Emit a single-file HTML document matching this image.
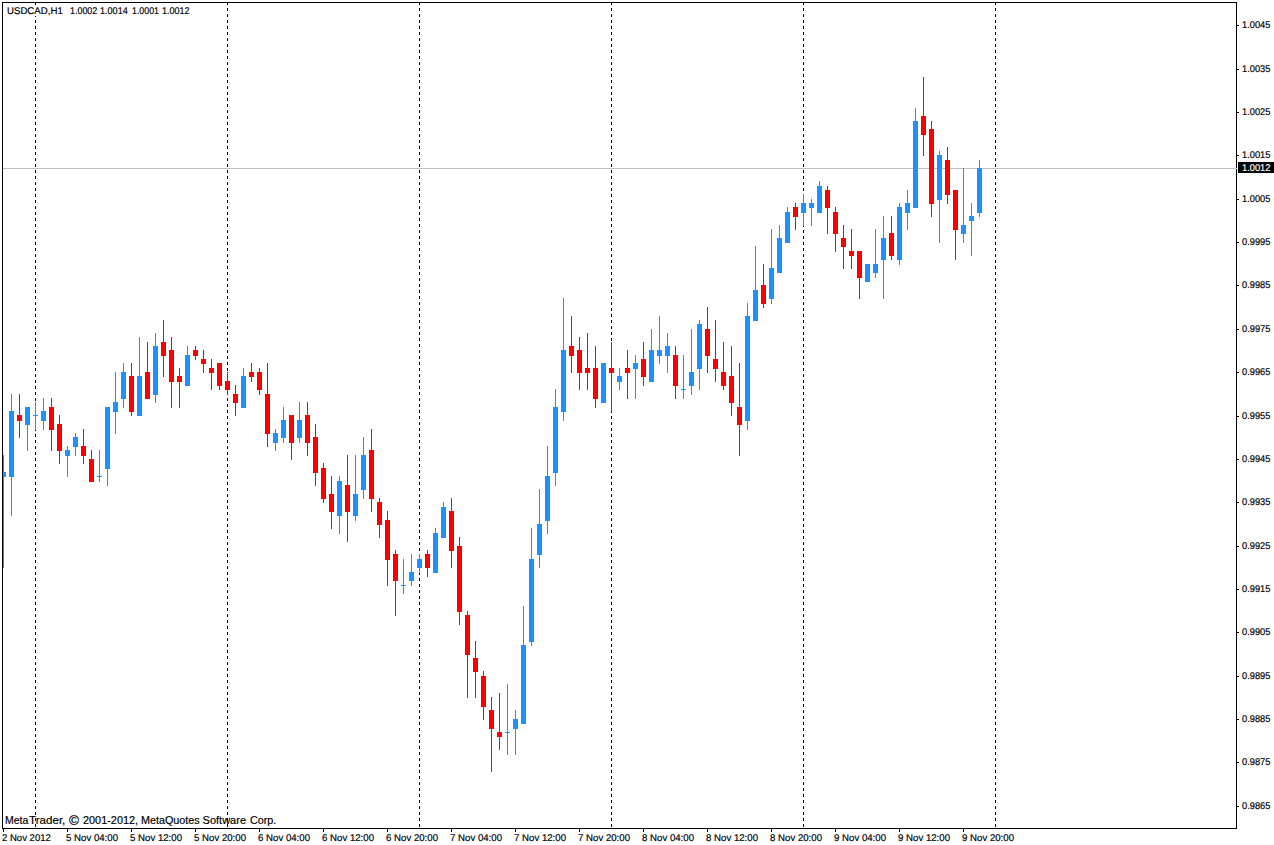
<!DOCTYPE html>
<html><head><meta charset="utf-8"><title>USDCAD,H1</title>
<style>
html,body{margin:0;padding:0;background:#fff;}
body{width:1274px;height:845px;position:relative;overflow:hidden;font-family:"Liberation Sans",sans-serif;}
svg{position:absolute;left:0;top:0;display:block;}
span{-webkit-text-stroke:0.18px currentColor;position:absolute;white-space:pre;line-height:1;transform-origin:0 0;font-family:"Liberation Sans",sans-serif;}
</style></head><body>
<svg width="1274" height="845" viewBox="0 0 1274 845" shape-rendering="crispEdges">
<line x1="35.5" y1="2" x2="35.5" y2="828" stroke="#000" stroke-width="1" stroke-dasharray="3 3"/>
<line x1="227.5" y1="2" x2="227.5" y2="828" stroke="#000" stroke-width="1" stroke-dasharray="3 3"/>
<line x1="419.5" y1="2" x2="419.5" y2="828" stroke="#000" stroke-width="1" stroke-dasharray="3 3"/>
<line x1="611.5" y1="2" x2="611.5" y2="828" stroke="#000" stroke-width="1" stroke-dasharray="3 3"/>
<line x1="803.5" y1="2" x2="803.5" y2="828" stroke="#000" stroke-width="1" stroke-dasharray="3 3"/>
<line x1="995.5" y1="2" x2="995.5" y2="828" stroke="#000" stroke-width="1" stroke-dasharray="3 3"/>
<rect x="3" y="168" width="1234" height="1" fill="#c0c0c0"/>
<rect x="5" y="5" width="188" height="11" fill="#fff"/>
<rect x="3" y="455" width="1" height="113" fill="#1e90ff"/>
<rect x="1" y="472" width="5" height="5" fill="#1e90ff"/>
<rect x="11" y="394" width="1" height="122" fill="#1e90ff"/>
<rect x="9" y="411" width="5" height="66" fill="#1e90ff"/>
<rect x="19" y="394" width="1" height="44" fill="#ff0000"/>
<rect x="17" y="415" width="5" height="6" fill="#ff0000"/>
<rect x="27" y="407" width="1" height="44" fill="#1e90ff"/>
<rect x="25" y="407" width="5" height="18" fill="#1e90ff"/>
<rect x="35" y="402" width="1" height="28" fill="#1e90ff"/>
<rect x="33" y="415" width="5" height="1" fill="#1e90ff"/>
<rect x="43" y="398" width="1" height="32" fill="#1e90ff"/>
<rect x="41" y="411" width="5" height="10" fill="#1e90ff"/>
<rect x="51" y="398" width="1" height="53" fill="#ff0000"/>
<rect x="49" y="407" width="5" height="23" fill="#ff0000"/>
<rect x="59" y="415" width="1" height="49" fill="#ff0000"/>
<rect x="57" y="424" width="5" height="27" fill="#ff0000"/>
<rect x="67" y="446" width="1" height="31" fill="#1e90ff"/>
<rect x="65" y="450" width="5" height="6" fill="#1e90ff"/>
<rect x="75" y="433" width="1" height="23" fill="#1e90ff"/>
<rect x="73" y="437" width="5" height="10" fill="#1e90ff"/>
<rect x="83" y="429" width="1" height="35" fill="#ff0000"/>
<rect x="81" y="446" width="5" height="10" fill="#ff0000"/>
<rect x="91" y="450" width="1" height="32" fill="#ff0000"/>
<rect x="89" y="459" width="5" height="23" fill="#ff0000"/>
<rect x="99" y="450" width="1" height="32" fill="#1e90ff"/>
<rect x="97" y="476" width="5" height="1" fill="#1e90ff"/>
<rect x="107" y="407" width="1" height="79" fill="#1e90ff"/>
<rect x="105" y="407" width="5" height="62" fill="#1e90ff"/>
<rect x="115" y="372" width="1" height="62" fill="#1e90ff"/>
<rect x="113" y="402" width="5" height="10" fill="#1e90ff"/>
<rect x="123" y="363" width="1" height="45" fill="#1e90ff"/>
<rect x="121" y="372" width="5" height="27" fill="#1e90ff"/>
<rect x="131" y="363" width="1" height="53" fill="#ff0000"/>
<rect x="129" y="376" width="5" height="36" fill="#ff0000"/>
<rect x="139" y="337" width="1" height="79" fill="#1e90ff"/>
<rect x="137" y="376" width="5" height="40" fill="#1e90ff"/>
<rect x="147" y="342" width="1" height="57" fill="#ff0000"/>
<rect x="145" y="372" width="5" height="27" fill="#ff0000"/>
<rect x="155" y="333" width="1" height="70" fill="#1e90ff"/>
<rect x="153" y="346" width="5" height="49" fill="#1e90ff"/>
<rect x="163" y="320" width="1" height="57" fill="#ff0000"/>
<rect x="161" y="342" width="5" height="14" fill="#ff0000"/>
<rect x="171" y="337" width="1" height="71" fill="#ff0000"/>
<rect x="169" y="350" width="5" height="32" fill="#ff0000"/>
<rect x="179" y="368" width="1" height="40" fill="#ff0000"/>
<rect x="177" y="376" width="5" height="6" fill="#ff0000"/>
<rect x="187" y="346" width="1" height="40" fill="#1e90ff"/>
<rect x="185" y="355" width="5" height="31" fill="#1e90ff"/>
<rect x="195" y="346" width="1" height="14" fill="#ff0000"/>
<rect x="193" y="350" width="5" height="6" fill="#ff0000"/>
<rect x="203" y="350" width="1" height="23" fill="#ff0000"/>
<rect x="201" y="359" width="5" height="5" fill="#ff0000"/>
<rect x="211" y="359" width="1" height="31" fill="#ff0000"/>
<rect x="209" y="368" width="5" height="5" fill="#ff0000"/>
<rect x="219" y="363" width="1" height="27" fill="#ff0000"/>
<rect x="217" y="363" width="5" height="23" fill="#ff0000"/>
<rect x="227" y="372" width="1" height="23" fill="#ff0000"/>
<rect x="225" y="381" width="5" height="9" fill="#ff0000"/>
<rect x="235" y="385" width="1" height="31" fill="#ff0000"/>
<rect x="233" y="394" width="5" height="9" fill="#ff0000"/>
<rect x="243" y="368" width="1" height="40" fill="#1e90ff"/>
<rect x="241" y="376" width="5" height="32" fill="#1e90ff"/>
<rect x="251" y="363" width="1" height="19" fill="#ff0000"/>
<rect x="249" y="372" width="5" height="5" fill="#ff0000"/>
<rect x="259" y="368" width="1" height="27" fill="#ff0000"/>
<rect x="257" y="372" width="5" height="18" fill="#ff0000"/>
<rect x="267" y="363" width="1" height="84" fill="#ff0000"/>
<rect x="265" y="394" width="5" height="40" fill="#ff0000"/>
<rect x="275" y="429" width="1" height="22" fill="#1e90ff"/>
<rect x="273" y="433" width="5" height="10" fill="#1e90ff"/>
<rect x="283" y="407" width="1" height="36" fill="#1e90ff"/>
<rect x="281" y="420" width="5" height="18" fill="#1e90ff"/>
<rect x="291" y="415" width="1" height="45" fill="#ff0000"/>
<rect x="289" y="415" width="5" height="28" fill="#ff0000"/>
<rect x="299" y="402" width="1" height="41" fill="#1e90ff"/>
<rect x="297" y="420" width="5" height="18" fill="#1e90ff"/>
<rect x="307" y="402" width="1" height="54" fill="#ff0000"/>
<rect x="305" y="415" width="5" height="28" fill="#ff0000"/>
<rect x="315" y="424" width="1" height="62" fill="#ff0000"/>
<rect x="313" y="437" width="5" height="36" fill="#ff0000"/>
<rect x="323" y="463" width="1" height="40" fill="#ff0000"/>
<rect x="321" y="468" width="5" height="31" fill="#ff0000"/>
<rect x="331" y="476" width="1" height="53" fill="#ff0000"/>
<rect x="329" y="494" width="5" height="18" fill="#ff0000"/>
<rect x="339" y="476" width="1" height="58" fill="#1e90ff"/>
<rect x="337" y="481" width="5" height="35" fill="#1e90ff"/>
<rect x="347" y="455" width="1" height="87" fill="#ff0000"/>
<rect x="345" y="485" width="5" height="27" fill="#ff0000"/>
<rect x="355" y="455" width="1" height="66" fill="#1e90ff"/>
<rect x="353" y="494" width="5" height="22" fill="#1e90ff"/>
<rect x="363" y="437" width="1" height="62" fill="#1e90ff"/>
<rect x="361" y="455" width="5" height="35" fill="#1e90ff"/>
<rect x="371" y="429" width="1" height="83" fill="#ff0000"/>
<rect x="369" y="450" width="5" height="49" fill="#ff0000"/>
<rect x="379" y="498" width="1" height="40" fill="#ff0000"/>
<rect x="377" y="502" width="5" height="23" fill="#ff0000"/>
<rect x="387" y="511" width="1" height="75" fill="#ff0000"/>
<rect x="385" y="520" width="5" height="40" fill="#ff0000"/>
<rect x="395" y="550" width="1" height="66" fill="#ff0000"/>
<rect x="393" y="554" width="5" height="27" fill="#ff0000"/>
<rect x="403" y="559" width="1" height="35" fill="#1e90ff"/>
<rect x="401" y="585" width="5" height="1" fill="#1e90ff"/>
<rect x="411" y="554" width="1" height="32" fill="#1e90ff"/>
<rect x="409" y="572" width="5" height="9" fill="#1e90ff"/>
<rect x="419" y="554" width="1" height="19" fill="#1e90ff"/>
<rect x="417" y="559" width="5" height="9" fill="#1e90ff"/>
<rect x="427" y="550" width="1" height="27" fill="#ff0000"/>
<rect x="425" y="554" width="5" height="14" fill="#ff0000"/>
<rect x="435" y="528" width="1" height="45" fill="#1e90ff"/>
<rect x="433" y="533" width="5" height="40" fill="#1e90ff"/>
<rect x="443" y="502" width="1" height="36" fill="#1e90ff"/>
<rect x="441" y="507" width="5" height="31" fill="#1e90ff"/>
<rect x="451" y="498" width="1" height="70" fill="#ff0000"/>
<rect x="449" y="511" width="5" height="40" fill="#ff0000"/>
<rect x="459" y="537" width="1" height="88" fill="#ff0000"/>
<rect x="457" y="546" width="5" height="66" fill="#ff0000"/>
<rect x="467" y="611" width="1" height="87" fill="#ff0000"/>
<rect x="465" y="615" width="5" height="40" fill="#ff0000"/>
<rect x="475" y="641" width="1" height="57" fill="#ff0000"/>
<rect x="473" y="658" width="5" height="14" fill="#ff0000"/>
<rect x="483" y="671" width="1" height="49" fill="#ff0000"/>
<rect x="481" y="676" width="5" height="31" fill="#ff0000"/>
<rect x="491" y="697" width="1" height="75" fill="#ff0000"/>
<rect x="489" y="710" width="5" height="19" fill="#ff0000"/>
<rect x="499" y="693" width="1" height="57" fill="#ff0000"/>
<rect x="497" y="732" width="5" height="5" fill="#ff0000"/>
<rect x="507" y="684" width="1" height="71" fill="#1e90ff"/>
<rect x="505" y="732" width="5" height="1" fill="#1e90ff"/>
<rect x="515" y="710" width="1" height="45" fill="#1e90ff"/>
<rect x="513" y="719" width="5" height="10" fill="#1e90ff"/>
<rect x="523" y="606" width="1" height="118" fill="#1e90ff"/>
<rect x="521" y="645" width="5" height="79" fill="#1e90ff"/>
<rect x="531" y="528" width="1" height="118" fill="#1e90ff"/>
<rect x="529" y="559" width="5" height="83" fill="#1e90ff"/>
<rect x="539" y="489" width="1" height="79" fill="#1e90ff"/>
<rect x="537" y="524" width="5" height="31" fill="#1e90ff"/>
<rect x="547" y="446" width="1" height="88" fill="#1e90ff"/>
<rect x="545" y="476" width="5" height="45" fill="#1e90ff"/>
<rect x="555" y="389" width="1" height="97" fill="#1e90ff"/>
<rect x="553" y="407" width="5" height="66" fill="#1e90ff"/>
<rect x="563" y="298" width="1" height="123" fill="#1e90ff"/>
<rect x="561" y="350" width="5" height="62" fill="#1e90ff"/>
<rect x="571" y="316" width="1" height="57" fill="#ff0000"/>
<rect x="569" y="346" width="5" height="10" fill="#ff0000"/>
<rect x="579" y="337" width="1" height="53" fill="#ff0000"/>
<rect x="577" y="350" width="5" height="23" fill="#ff0000"/>
<rect x="587" y="333" width="1" height="57" fill="#ff0000"/>
<rect x="585" y="368" width="5" height="5" fill="#ff0000"/>
<rect x="595" y="346" width="1" height="62" fill="#ff0000"/>
<rect x="593" y="368" width="5" height="31" fill="#ff0000"/>
<rect x="603" y="363" width="1" height="40" fill="#1e90ff"/>
<rect x="601" y="363" width="5" height="40" fill="#1e90ff"/>
<rect x="611" y="342" width="1" height="70" fill="#ff0000"/>
<rect x="609" y="368" width="5" height="5" fill="#ff0000"/>
<rect x="619" y="368" width="1" height="22" fill="#1e90ff"/>
<rect x="617" y="376" width="5" height="6" fill="#1e90ff"/>
<rect x="627" y="350" width="1" height="49" fill="#ff0000"/>
<rect x="625" y="368" width="5" height="5" fill="#ff0000"/>
<rect x="635" y="355" width="1" height="44" fill="#1e90ff"/>
<rect x="633" y="363" width="5" height="6" fill="#1e90ff"/>
<rect x="643" y="342" width="1" height="44" fill="#ff0000"/>
<rect x="641" y="359" width="5" height="18" fill="#ff0000"/>
<rect x="651" y="329" width="1" height="53" fill="#1e90ff"/>
<rect x="649" y="350" width="5" height="32" fill="#1e90ff"/>
<rect x="659" y="316" width="1" height="48" fill="#1e90ff"/>
<rect x="657" y="350" width="5" height="6" fill="#1e90ff"/>
<rect x="667" y="333" width="1" height="40" fill="#1e90ff"/>
<rect x="665" y="346" width="5" height="10" fill="#1e90ff"/>
<rect x="675" y="346" width="1" height="53" fill="#ff0000"/>
<rect x="673" y="355" width="5" height="31" fill="#ff0000"/>
<rect x="683" y="355" width="1" height="44" fill="#1e90ff"/>
<rect x="681" y="389" width="5" height="1" fill="#1e90ff"/>
<rect x="691" y="329" width="1" height="66" fill="#1e90ff"/>
<rect x="689" y="372" width="5" height="14" fill="#1e90ff"/>
<rect x="699" y="320" width="1" height="70" fill="#1e90ff"/>
<rect x="697" y="324" width="5" height="45" fill="#1e90ff"/>
<rect x="707" y="307" width="1" height="66" fill="#ff0000"/>
<rect x="705" y="329" width="5" height="27" fill="#ff0000"/>
<rect x="715" y="320" width="1" height="62" fill="#ff0000"/>
<rect x="713" y="359" width="5" height="10" fill="#ff0000"/>
<rect x="723" y="342" width="1" height="48" fill="#ff0000"/>
<rect x="721" y="372" width="5" height="14" fill="#ff0000"/>
<rect x="731" y="346" width="1" height="70" fill="#ff0000"/>
<rect x="729" y="376" width="5" height="27" fill="#ff0000"/>
<rect x="739" y="363" width="1" height="93" fill="#ff0000"/>
<rect x="737" y="407" width="5" height="18" fill="#ff0000"/>
<rect x="747" y="303" width="1" height="127" fill="#1e90ff"/>
<rect x="745" y="316" width="5" height="105" fill="#1e90ff"/>
<rect x="755" y="246" width="1" height="75" fill="#1e90ff"/>
<rect x="753" y="290" width="5" height="31" fill="#1e90ff"/>
<rect x="763" y="264" width="1" height="44" fill="#ff0000"/>
<rect x="761" y="285" width="5" height="19" fill="#ff0000"/>
<rect x="771" y="229" width="1" height="75" fill="#1e90ff"/>
<rect x="769" y="268" width="5" height="31" fill="#1e90ff"/>
<rect x="779" y="225" width="1" height="48" fill="#1e90ff"/>
<rect x="777" y="238" width="5" height="35" fill="#1e90ff"/>
<rect x="787" y="207" width="1" height="36" fill="#1e90ff"/>
<rect x="785" y="212" width="5" height="31" fill="#1e90ff"/>
<rect x="795" y="203" width="1" height="27" fill="#ff0000"/>
<rect x="793" y="207" width="5" height="10" fill="#ff0000"/>
<rect x="803" y="194" width="1" height="32" fill="#1e90ff"/>
<rect x="801" y="203" width="5" height="10" fill="#1e90ff"/>
<rect x="811" y="199" width="1" height="27" fill="#1e90ff"/>
<rect x="809" y="203" width="5" height="5" fill="#1e90ff"/>
<rect x="819" y="181" width="1" height="32" fill="#1e90ff"/>
<rect x="817" y="186" width="5" height="27" fill="#1e90ff"/>
<rect x="827" y="186" width="1" height="48" fill="#ff0000"/>
<rect x="825" y="190" width="5" height="18" fill="#ff0000"/>
<rect x="835" y="207" width="1" height="45" fill="#ff0000"/>
<rect x="833" y="212" width="5" height="22" fill="#ff0000"/>
<rect x="843" y="225" width="1" height="44" fill="#ff0000"/>
<rect x="841" y="238" width="5" height="9" fill="#ff0000"/>
<rect x="851" y="229" width="1" height="40" fill="#ff0000"/>
<rect x="849" y="251" width="5" height="5" fill="#ff0000"/>
<rect x="859" y="251" width="1" height="48" fill="#ff0000"/>
<rect x="857" y="251" width="5" height="27" fill="#ff0000"/>
<rect x="867" y="264" width="1" height="18" fill="#1e90ff"/>
<rect x="865" y="264" width="5" height="18" fill="#1e90ff"/>
<rect x="875" y="229" width="1" height="49" fill="#1e90ff"/>
<rect x="873" y="264" width="5" height="9" fill="#1e90ff"/>
<rect x="883" y="216" width="1" height="83" fill="#1e90ff"/>
<rect x="881" y="238" width="5" height="22" fill="#1e90ff"/>
<rect x="891" y="216" width="1" height="44" fill="#ff0000"/>
<rect x="889" y="233" width="5" height="23" fill="#ff0000"/>
<rect x="899" y="203" width="1" height="62" fill="#1e90ff"/>
<rect x="897" y="207" width="5" height="53" fill="#1e90ff"/>
<rect x="907" y="190" width="1" height="40" fill="#1e90ff"/>
<rect x="905" y="203" width="5" height="10" fill="#1e90ff"/>
<rect x="915" y="108" width="1" height="100" fill="#1e90ff"/>
<rect x="913" y="121" width="5" height="87" fill="#1e90ff"/>
<rect x="923" y="77" width="1" height="79" fill="#ff0000"/>
<rect x="921" y="116" width="5" height="19" fill="#ff0000"/>
<rect x="931" y="121" width="1" height="96" fill="#ff0000"/>
<rect x="929" y="129" width="5" height="75" fill="#ff0000"/>
<rect x="939" y="151" width="1" height="92" fill="#1e90ff"/>
<rect x="937" y="155" width="5" height="45" fill="#1e90ff"/>
<rect x="947" y="147" width="1" height="57" fill="#ff0000"/>
<rect x="945" y="160" width="5" height="35" fill="#ff0000"/>
<rect x="955" y="190" width="1" height="70" fill="#ff0000"/>
<rect x="953" y="190" width="5" height="40" fill="#ff0000"/>
<rect x="963" y="168" width="1" height="75" fill="#1e90ff"/>
<rect x="961" y="225" width="5" height="9" fill="#1e90ff"/>
<rect x="971" y="203" width="1" height="53" fill="#1e90ff"/>
<rect x="969" y="216" width="5" height="5" fill="#1e90ff"/>
<rect x="979" y="160" width="1" height="57" fill="#1e90ff"/>
<rect x="977" y="168" width="5" height="45" fill="#1e90ff"/>
<rect x="0" y="0" width="3" height="845" fill="#fff"/>
<rect x="2" y="2" width="1" height="827" fill="#000"/>
<rect x="2" y="2" width="1235" height="1" fill="#000"/>
<rect x="1236" y="2" width="1" height="827" fill="#000"/>
<rect x="2" y="828" width="1235" height="1" fill="#000"/>
<rect x="1236" y="168" width="1" height="1" fill="#e0e0e0"/>
<rect x="1237" y="25" width="2" height="1" fill="#000"/>
<rect x="1237" y="69" width="2" height="1" fill="#000"/>
<rect x="1237" y="112" width="2" height="1" fill="#000"/>
<rect x="1237" y="155" width="2" height="1" fill="#000"/>
<rect x="1237" y="199" width="2" height="1" fill="#000"/>
<rect x="1237" y="242" width="2" height="1" fill="#000"/>
<rect x="1237" y="285" width="2" height="1" fill="#000"/>
<rect x="1237" y="329" width="2" height="1" fill="#000"/>
<rect x="1237" y="372" width="2" height="1" fill="#000"/>
<rect x="1237" y="416" width="2" height="1" fill="#000"/>
<rect x="1237" y="459" width="2" height="1" fill="#000"/>
<rect x="1237" y="502" width="2" height="1" fill="#000"/>
<rect x="1237" y="546" width="2" height="1" fill="#000"/>
<rect x="1237" y="589" width="2" height="1" fill="#000"/>
<rect x="1237" y="632" width="2" height="1" fill="#000"/>
<rect x="1237" y="676" width="2" height="1" fill="#000"/>
<rect x="1237" y="719" width="2" height="1" fill="#000"/>
<rect x="1237" y="762" width="2" height="1" fill="#000"/>
<rect x="1237" y="806" width="2" height="1" fill="#000"/>
<rect x="3" y="829" width="1" height="3" fill="#000"/>
<rect x="67" y="829" width="1" height="3" fill="#000"/>
<rect x="131" y="829" width="1" height="3" fill="#000"/>
<rect x="195" y="829" width="1" height="3" fill="#000"/>
<rect x="259" y="829" width="1" height="3" fill="#000"/>
<rect x="323" y="829" width="1" height="3" fill="#000"/>
<rect x="387" y="829" width="1" height="3" fill="#000"/>
<rect x="451" y="829" width="1" height="3" fill="#000"/>
<rect x="515" y="829" width="1" height="3" fill="#000"/>
<rect x="579" y="829" width="1" height="3" fill="#000"/>
<rect x="643" y="829" width="1" height="3" fill="#000"/>
<rect x="707" y="829" width="1" height="3" fill="#000"/>
<rect x="771" y="829" width="1" height="3" fill="#000"/>
<rect x="835" y="829" width="1" height="3" fill="#000"/>
<rect x="899" y="829" width="1" height="3" fill="#000"/>
<rect x="963" y="829" width="1" height="3" fill="#000"/>
<rect x="1238" y="162" width="36" height="11" fill="#000"/>
</svg>
<span style="left:1242px;top:21px;font-size:9.8px;color:#000;transform:scaleX(0.95);text-rendering:geometricPrecision;">1.0045</span>
<span style="left:1242px;top:65px;font-size:9.8px;color:#000;transform:scaleX(0.95);text-rendering:geometricPrecision;">1.0035</span>
<span style="left:1242px;top:108px;font-size:9.8px;color:#000;transform:scaleX(0.95);text-rendering:geometricPrecision;">1.0025</span>
<span style="left:1242px;top:151px;font-size:9.8px;color:#000;transform:scaleX(0.95);text-rendering:geometricPrecision;">1.0015</span>
<span style="left:1242px;top:195px;font-size:9.8px;color:#000;transform:scaleX(0.95);text-rendering:geometricPrecision;">1.0005</span>
<span style="left:1242px;top:238px;font-size:9.8px;color:#000;transform:scaleX(0.95);text-rendering:geometricPrecision;">0.9995</span>
<span style="left:1242px;top:281px;font-size:9.8px;color:#000;transform:scaleX(0.95);text-rendering:geometricPrecision;">0.9985</span>
<span style="left:1242px;top:325px;font-size:9.8px;color:#000;transform:scaleX(0.95);text-rendering:geometricPrecision;">0.9975</span>
<span style="left:1242px;top:368px;font-size:9.8px;color:#000;transform:scaleX(0.95);text-rendering:geometricPrecision;">0.9965</span>
<span style="left:1242px;top:412px;font-size:9.8px;color:#000;transform:scaleX(0.95);text-rendering:geometricPrecision;">0.9955</span>
<span style="left:1242px;top:455px;font-size:9.8px;color:#000;transform:scaleX(0.95);text-rendering:geometricPrecision;">0.9945</span>
<span style="left:1242px;top:498px;font-size:9.8px;color:#000;transform:scaleX(0.95);text-rendering:geometricPrecision;">0.9935</span>
<span style="left:1242px;top:542px;font-size:9.8px;color:#000;transform:scaleX(0.95);text-rendering:geometricPrecision;">0.9925</span>
<span style="left:1242px;top:585px;font-size:9.8px;color:#000;transform:scaleX(0.95);text-rendering:geometricPrecision;">0.9915</span>
<span style="left:1242px;top:628px;font-size:9.8px;color:#000;transform:scaleX(0.95);text-rendering:geometricPrecision;">0.9905</span>
<span style="left:1242px;top:672px;font-size:9.8px;color:#000;transform:scaleX(0.95);text-rendering:geometricPrecision;">0.9895</span>
<span style="left:1242px;top:715px;font-size:9.8px;color:#000;transform:scaleX(0.95);text-rendering:geometricPrecision;">0.9885</span>
<span style="left:1242px;top:758px;font-size:9.8px;color:#000;transform:scaleX(0.95);text-rendering:geometricPrecision;">0.9875</span>
<span style="left:1242px;top:802px;font-size:9.8px;color:#000;transform:scaleX(0.95);text-rendering:geometricPrecision;">0.9865</span>
<span style="left:1242px;top:164px;font-size:9.8px;color:#fff;transform:scaleX(0.95);text-rendering:geometricPrecision;">1.0012</span>
<span style="left:2px;top:834px;font-size:9.8px;color:#000;transform:scaleX(0.975);text-rendering:geometricPrecision;">2 Nov 2012</span>
<span style="left:66px;top:834px;font-size:9.8px;color:#000;transform:scaleX(0.985);text-rendering:geometricPrecision;">5 Nov 04:00</span>
<span style="left:130px;top:834px;font-size:9.8px;color:#000;transform:scaleX(0.985);text-rendering:geometricPrecision;">5 Nov 12:00</span>
<span style="left:194px;top:834px;font-size:9.8px;color:#000;transform:scaleX(0.985);text-rendering:geometricPrecision;">5 Nov 20:00</span>
<span style="left:258px;top:834px;font-size:9.8px;color:#000;transform:scaleX(0.985);text-rendering:geometricPrecision;">6 Nov 04:00</span>
<span style="left:322px;top:834px;font-size:9.8px;color:#000;transform:scaleX(0.985);text-rendering:geometricPrecision;">6 Nov 12:00</span>
<span style="left:386px;top:834px;font-size:9.8px;color:#000;transform:scaleX(0.985);text-rendering:geometricPrecision;">6 Nov 20:00</span>
<span style="left:450px;top:834px;font-size:9.8px;color:#000;transform:scaleX(0.985);text-rendering:geometricPrecision;">7 Nov 04:00</span>
<span style="left:514px;top:834px;font-size:9.8px;color:#000;transform:scaleX(0.985);text-rendering:geometricPrecision;">7 Nov 12:00</span>
<span style="left:578px;top:834px;font-size:9.8px;color:#000;transform:scaleX(0.985);text-rendering:geometricPrecision;">7 Nov 20:00</span>
<span style="left:642px;top:834px;font-size:9.8px;color:#000;transform:scaleX(0.985);text-rendering:geometricPrecision;">8 Nov 04:00</span>
<span style="left:706px;top:834px;font-size:9.8px;color:#000;transform:scaleX(0.985);text-rendering:geometricPrecision;">8 Nov 12:00</span>
<span style="left:770px;top:834px;font-size:9.8px;color:#000;transform:scaleX(0.985);text-rendering:geometricPrecision;">8 Nov 20:00</span>
<span style="left:834px;top:834px;font-size:9.8px;color:#000;transform:scaleX(0.985);text-rendering:geometricPrecision;">9 Nov 04:00</span>
<span style="left:898px;top:834px;font-size:9.8px;color:#000;transform:scaleX(0.985);text-rendering:geometricPrecision;">9 Nov 12:00</span>
<span style="left:962px;top:834px;font-size:9.8px;color:#000;transform:scaleX(0.985);text-rendering:geometricPrecision;">9 Nov 20:00</span>
<span style="left:7.0px;top:7px;font-size:9.8px;color:#000;transform:scaleX(0.985);text-rendering:geometricPrecision;">USDCAD,H1</span>
<span style="left:69.7px;top:7px;font-size:9.8px;color:#000;transform:scaleX(0.91);text-rendering:geometricPrecision;">1.0002</span>
<span style="left:100.0px;top:7px;font-size:9.8px;color:#000;transform:scaleX(0.925);text-rendering:geometricPrecision;">1.0014</span>
<span style="left:131.6px;top:7px;font-size:9.8px;color:#000;transform:scaleX(0.9);text-rendering:geometricPrecision;">1.0001</span>
<span style="left:162.4px;top:7px;font-size:9.8px;color:#000;transform:scaleX(0.92);text-rendering:geometricPrecision;">1.0012</span>
<span style="left:5.3px;top:815px;font-size:11px;color:#000;transform:scaleX(0.955);">Meta</span>
<span style="left:28.6px;top:815px;font-size:11px;color:#000;transform:scaleX(1.055);">Trader,</span>
<span style="left:69.0px;top:814px;font-size:13.5px;color:#000;transform:scaleX(1.0);">©</span>
<span style="left:82.6px;top:815px;font-size:11px;color:#000;transform:scaleX(0.99);">2001-2012,</span>
<span style="left:141px;top:815px;font-size:11px;color:#000;transform:scaleX(0.98);">MetaQuotes</span>
<span style="left:202.6px;top:815px;font-size:11px;color:#000;transform:scaleX(1.0);">Software</span>
<span style="left:249.5px;top:815px;font-size:11px;color:#000;transform:scaleX(0.98);">Corp.</span>
</body></html>
